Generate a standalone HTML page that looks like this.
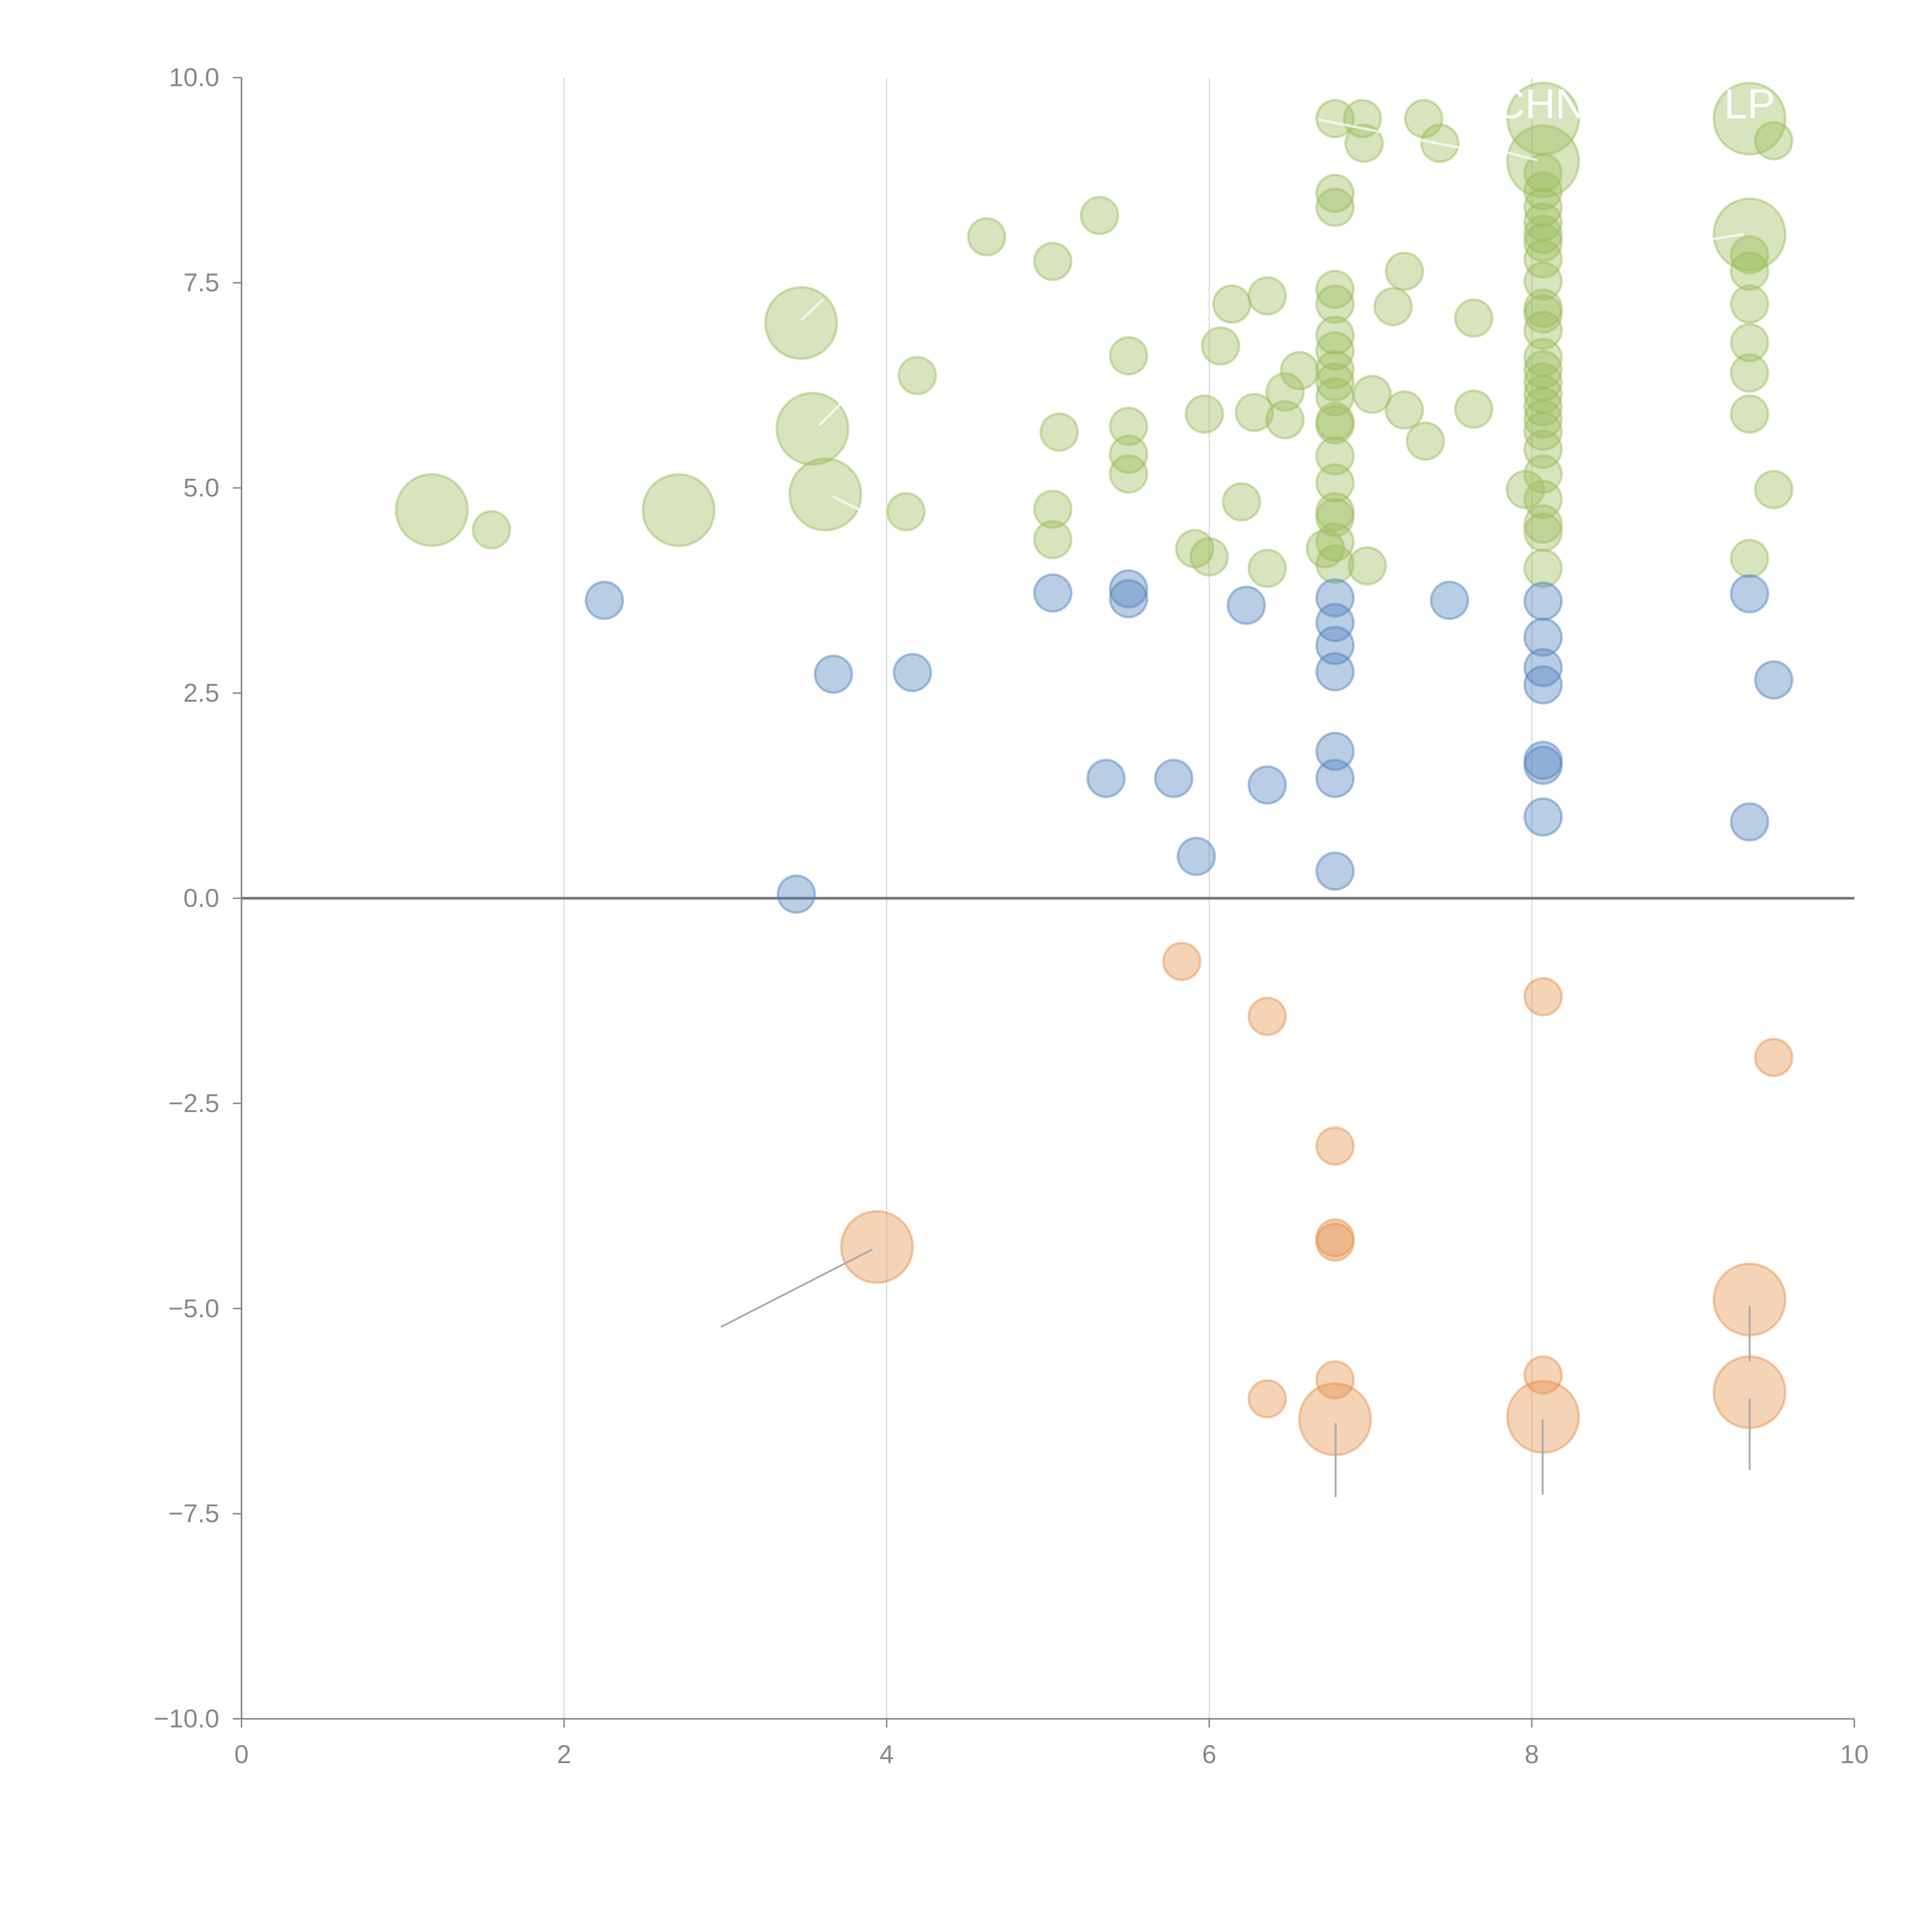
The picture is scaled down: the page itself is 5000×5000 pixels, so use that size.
<!DOCTYPE html>
<html><head><meta charset="utf-8"><style>
html,body{margin:0;padding:0;background:#fff;}
svg{display:block;}
text{font-family:"Liberation Sans",sans-serif;}
</style></head><body>
<svg id="chart" width="5000" height="5000" viewBox="0 0 1568 1568" xmlns="http://www.w3.org/2000/svg">
<g id="grid"></g>
<g id="axes"></g>
<g id="marks"></g>
<g id="ann"></g>
</svg>
<script>
const xTicks=[0,2,4,6,8,10];
const yTicks=[10,7.5,5,2.5,0,-2.5,-5,-7.5,-10];
const yTickLabels=["10.0","7.5","5.0","2.5","0.0","\u22122.5","\u22125.0","\u22127.5","\u221210.0"];
const greenX=[6.78,6.95,7.33,6.96,7.43,8.07,9.35,9.5,8.07,6.78,6.78,5.32,4.62,5.03,9.35,9.35,9.35,3.47,6.36,6.14,7.14,7.21,7.64,6.78,6.78,6.78,6.78,6.78,6.78,6.78,6.78,6.78,6.78,6.78,6.78,6.78,6.78,6.78,6.72,6.07,5.5,4.19,6.56,6.47,7.01,7.21,7.64,6.28,5.97,6.47,5.5,5.07,7.34,3.54,5.5,5.5,3.62,1.18,2.71,1.55,4.12,5.03,5.03,6.2,5.91,6.0,6.36,6.98,9.35,9.35,9.35,9.35,9.35,9.5,7.96,
8.07,8.07,8.07,8.07,8.07,8.07,8.07,8.07,8.07,8.07,8.07,8.07,8.07,8.07,8.07,8.07,8.07,8.07,8.07,8.07,8.07,8.07,8.07,8.07];
const greenY=[9.5,9.5,9.5,9.2,9.2,9.5,9.5,9.23,8.98,8.59,8.42,8.32,8.06,7.76,8.09,7.84,7.64,7.01,7.34,7.24,7.21,7.64,7.07,7.42,7.24,6.86,6.67,6.44,6.29,6.11,5.81,5.77,5.39,5.06,4.71,4.64,4.34,4.07,4.26,6.73,6.61,6.37,6.43,6.17,6.14,5.95,5.96,5.92,5.9,5.83,5.75,5.68,5.57,5.72,5.41,5.17,4.92,4.73,4.73,4.49,4.71,4.74,4.37,4.83,4.26,4.16,4.02,4.05,7.24,6.77,6.4,5.9,4.14,4.98,4.98,
8.84,8.62,8.42,8.24,8.09,7.99,7.79,7.52,7.19,7.12,6.92,6.59,6.44,6.29,6.14,5.99,5.84,5.69,5.47,5.17,4.86,4.56,4.46,4.02];
const greenSize=[1,1,1,1,1,2,2,1,2,1,1,1,1,1,2,1,1,2,1,1,1,1,1,1,1,1,1,1,1,1,1,1,1,1,1,1,1,1,1,1,1,1,1,1,1,1,1,1,1,1,1,1,1,2,1,1,2,2,2,1,1,1,1,1,1,1,1,1,1,1,1,1,1,1,1,
1,1,1,1,1,1,1,1,1,1,1,1,1,1,1,1,1,1,1,1,1,1,1,1];
const blueX=[2.25,3.67,4.16,5.03,5.5,5.5,6.23,7.49,6.78,6.78,6.78,6.78,6.78,6.78,6.78,5.36,5.78,6.36,5.92,3.44,8.07,8.07,8.07,8.07,8.07,8.07,8.07,9.35,9.5,9.35];
const blueY=[3.63,2.73,2.75,3.72,3.77,3.65,3.57,3.63,3.66,3.36,3.08,2.76,1.79,1.46,0.33,1.46,1.46,1.38,0.51,0.05,3.62,3.18,2.81,2.6,1.68,1.62,0.99,3.71,2.66,0.93];
const orangeX=[5.83,6.36,8.07,9.5,6.78,6.78,6.78,3.94,9.35,6.78,8.07,6.36,6.78,8.07,9.35];
const orangeY=[-0.77,-1.44,-1.2,-1.94,-3.02,-4.14,-4.19,-4.25,-4.89,-5.87,-5.81,-6.1,-6.35,-6.32,-6.02];
const orangeSize=[1,1,1,1,1,1,1,2,2,1,1,1,2,2,2];

const NS="http://www.w3.org/2000/svg";
const X0=196,X1=1505,Y0=63,Y1=1395;
const sx=v=>X0+(v-0)/10*(X1-X0);
const sy=v=>Y0+(10-v)/20*(Y1-Y0);
function mk(tag,attrs,parent){const e=document.createElementNS(NS,tag);for(const k in attrs)e.setAttribute(k,attrs[k]);parent.appendChild(e);return e;}
const grid=document.getElementById('grid'),axes=document.getElementById('axes'),marks=document.getElementById('marks'),ann=document.getElementById('ann');
xTicks.forEach(t=>{
  if(t>0&&t<10){const l=mk('line',{x1:sx(t),x2:sx(t),y1:Y0,y2:Y1,stroke:'#dcdcdc','stroke-width':1},grid);
  
  }
  const tk=mk('line',{x1:sx(t),x2:sx(t),y1:Y1,y2:Y1+7,stroke:'#888','stroke-width':1.2},axes);
  
  
  const tx=mk('text',{x:sx(t),y:Y1+36,'text-anchor':'middle','font-size':21,fill:'#888'},axes);
  tx.textContent=String(t);
  
  
});
yTicks.forEach((t,i)=>{
  const tk=mk('line',{x1:X0-7,x2:X0,y1:sy(t),y2:sy(t),stroke:'#888','stroke-width':1.2},axes);
  
  
  const tx=mk('text',{x:X0-18,y:sy(t)+7,'text-anchor':'end','font-size':21,fill:'#888'},axes);
  tx.textContent=yTickLabels[i];
  
  
});
const ya=mk('line',{x1:X0,x2:X0,y1:Y0,y2:Y1,stroke:'#888','stroke-width':1.3},axes);


const xa=mk('line',{x1:X0,x2:X1,y1:Y1,y2:Y1,stroke:'#888','stroke-width':1.3},axes);


const zl=mk('line',{x1:X0,x2:X1,y1:sy(0),y2:sy(0),stroke:'#777','stroke-width':2.2},axes);



function series(xs,ys,sz,fill,name){
  xs.forEach((x,i)=>{
    const r=(sz&&sz[i]===2)?29:15;
    const c=mk('circle',{cx:sx(x),cy:sy(ys[i]),r:r,fill:fill,'fill-opacity':0.4,stroke:fill,'stroke-opacity':0.45,'stroke-width':2},marks);
    
    
  });
}
series(greenX,greenY,greenSize,'#9bbb59','bubble-green');
series(blueX,blueY,null,'#4f81bd','bubble-blue');
series(orangeX,orangeY,orangeSize,'#e5904c','bubble-orange');

[[585,1077,708,1014],[1084,1155,1084,1215],[1252,1152,1252,1213],[1420,1060,1420,1105],[1420,1135,1420,1193]].forEach(s=>{
  const l=mk('line',{x1:s[0],y1:s[1],x2:s[2],y2:s[3],stroke:'#aaa','stroke-width':1.5},ann);
  
  
});
[[1070,97,1185,120],[1200,118,1248,130],[650,260,668,243],[665,345,683,327],[676,403,698,414],[1390,194,1415,190]].forEach(s=>{
  const l=mk('line',{x1:s[0],y1:s[1],x2:s[2],y2:s[3],stroke:'#fff','stroke-width':2,'stroke-opacity':0.7},ann);
  
  
});
[['CHN',1250,96],['LP',1420,96]].forEach(s=>{
  const t=mk('text',{x:s[1],y:s[2],'text-anchor':'middle','font-size':34,fill:'#fff'},ann);
  t.textContent=s[0];
  
  
});
</script>
</body></html>
